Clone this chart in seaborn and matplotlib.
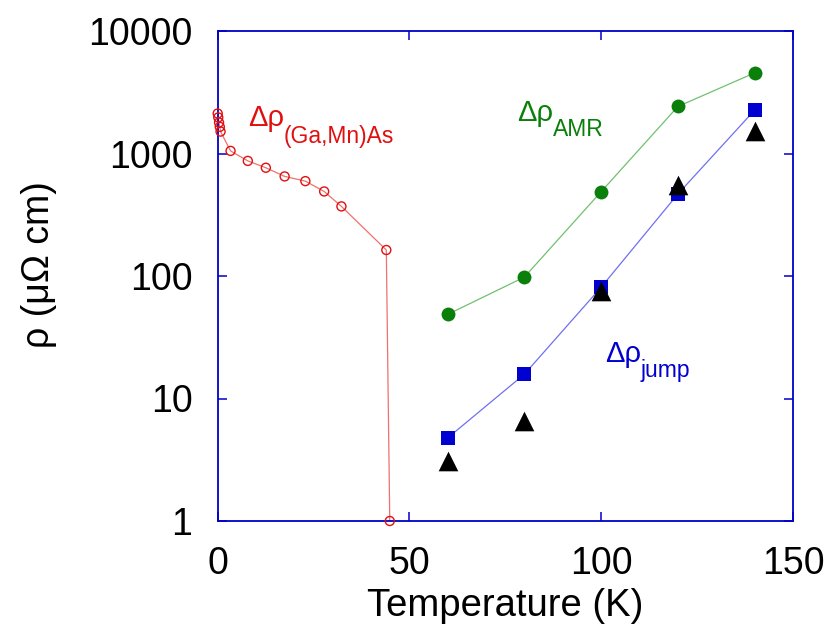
import matplotlib
matplotlib.use("Agg")
import matplotlib.pyplot as plt
import seaborn as sns
import numpy as np
import pandas as pd
from matplotlib.ticker import FixedLocator, FixedFormatter, NullLocator

# (Ga,Mn)As resistivity change vs temperature
t_gamnas = [0.05, 0.2, 0.4, 0.6, 0.8, 3.4, 7.9, 12.6, 17.5, 22.9, 27.8, 32.3, 44.0, 44.9]
rho_gamnas = [2120, 1970, 1790, 1650, 1510, 1050, 870, 765, 650, 595, 490, 370, 163, 1.0]

# AMR contribution
t_amr = [60, 80, 100, 120, 140]
rho_amr = [48.6, 98, 488, 2420, 4550]

# resistivity jump
t_jump = [60, 80, 100, 120, 140]
rho_jump = [4.77, 15.8, 81, 467, 2260]

# second jump estimate (triangles)
t_tri = [60, 80, 100, 120, 140]
rho_tri = [3.1, 6.6, 76, 550, 1530]

x_ticks = [0, 50, 100, 150]
y_ticks = [1, 10, 100, 1000, 10000]
y_tick_labels = ["1", "10", "100", "1000", "10000"]

sns.set_theme(style="white")
plt.rcParams["font.family"] = ["Liberation Sans", "DejaVu Sans"]

W, H = 829, 628
fig = plt.figure(figsize=(W / 100, H / 100), dpi=100)
L, R, T, B = 217.5, 793, 31, 521
ax = fig.add_axes([L / W, 1 - B / H, (R - L) / W, (B - T) / H])

axis_blue = "#0000c8"
red, red_line = "#e01010", "#f07070"
green, green_line = "#0a800a", "#70c070"
blue, blue_line = "#0000d0", "#7070f0"

d_gm = pd.DataFrame({"T": t_gamnas, "rho": rho_gamnas})
d_amr = pd.DataFrame({"T": t_amr, "rho": rho_amr})
d_jump = pd.DataFrame({"T": t_jump, "rho": rho_jump})
d_tri = pd.DataFrame({"T": t_tri, "rho": rho_tri})

# connecting lines
sns.lineplot(data=d_gm, x="T", y="rho", ax=ax, color=red_line, lw=0.9, sort=False)
sns.lineplot(data=d_amr, x="T", y="rho", ax=ax, color=green_line, lw=0.9, sort=False)
sns.lineplot(data=d_jump, x="T", y="rho", ax=ax, color=blue_line, lw=0.9, sort=False)

# markers
sns.scatterplot(data=d_gm, x="T", y="rho", ax=ax, marker="o", s=42,
                facecolor="none", edgecolor=red, linewidth=1.0, clip_on=False, zorder=4)
sns.scatterplot(data=d_amr, x="T", y="rho", ax=ax, marker="o", s=100,
                color=green, edgecolor=green, linewidth=0, zorder=4)
sns.scatterplot(data=d_jump, x="T", y="rho", ax=ax, marker="s", s=100,
                color=blue, edgecolor=blue, linewidth=0, zorder=4)
sns.scatterplot(data=d_tri, x="T", y="rho", ax=ax, marker="^", s=200,
                color="black", edgecolor="black", linewidth=0, zorder=5)

ax.set_yscale("log")
ax.set_xlim(0, 150)
ax.set_ylim(1, 10000)
ax.xaxis.set_major_locator(FixedLocator(x_ticks))
ax.yaxis.set_major_locator(FixedLocator(y_ticks))
ax.yaxis.set_major_formatter(FixedFormatter(y_tick_labels))
ax.yaxis.set_minor_locator(NullLocator())
ax.xaxis.set_minor_locator(NullLocator())

for s in ax.spines.values():
    s.set_color(axis_blue)
    s.set_linewidth(1.3)
    s.set_visible(True)
ax.tick_params(axis="both", which="major", direction="in", length=6.5, width=1.1,
               color=axis_blue, top=True, right=True, bottom=True, left=True,
               labelsize=27, labelcolor="black")
ax.tick_params(axis="x", pad=18)
ax.tick_params(axis="y", pad=18)

ax.set_xlabel("Temperature (K)", fontsize=27.5, color="black", labelpad=4)
ax.set_ylabel("ρ (μΩ cm)", fontsize=27, color="black")
ax.yaxis.set_label_coords((57 - L) / (R - L), (B - 265) / (B - T))


def px2ax(px, py):
    return (px - L) / (R - L), (B - py) / (B - T)


def label_with_sub(main, sub, px, py, sub_drop, color, sub_size=16.5):
    x, y = px2ax(px, py)
    t = ax.text(x, y, main, transform=ax.transAxes, fontsize=21, color=color,
                ha="left", va="baseline")
    fig.canvas.draw()
    bb = t.get_window_extent()
    sx = bb.x1 / W
    sy = (H - (py + sub_drop)) / H
    fig.text(sx, sy, sub, fontsize=sub_size, color=color, ha="left", va="baseline")


label_with_sub("Δρ", "(Ga,Mn)As", 248, 126, 17, red)
label_with_sub("Δρ", "AMR", 517, 121, 15, green)
label_with_sub("Δρ", "jump", 605, 362, 15, blue)

fig.savefig("out.png", dpi=100, facecolor="white")
